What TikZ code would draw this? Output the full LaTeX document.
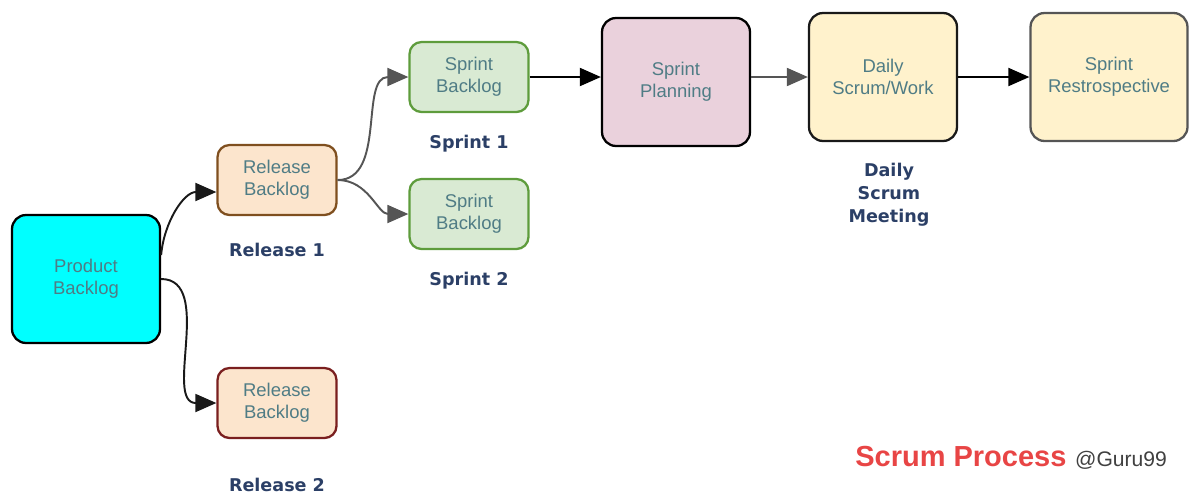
\documentclass[tikz,border=0pt]{standalone}
\usepackage{fontspec}
\setmainfont{Liberation Sans}
\newfontfamily\labelfont{DejaVu Sans}
\usetikzlibrary{arrows.meta,positioning}
\definecolor{boxtext}{HTML}{4F7C85}
\definecolor{labeltext}{HTML}{2B3F66}
\definecolor{cyanfill}{HTML}{00FFFF}
\definecolor{releasefill}{HTML}{FCE5CD}
\definecolor{releaseline}{HTML}{7F4F1F}
\definecolor{releaselinetwo}{HTML}{7A1F1F}
\definecolor{sprintfill}{HTML}{D9EAD3}
\definecolor{sprintline}{HTML}{5E9C3C}
\definecolor{planfill}{HTML}{EAD1DC}
\definecolor{dailyfill}{HTML}{FFF2CC}
\definecolor{retroline}{HTML}{555555}
\definecolor{greyarrow}{HTML}{555555}
\definecolor{titlered}{HTML}{E84545}
\begin{document}
\begin{tikzpicture}[x=0.02cm,y=-0.02cm,
	bigbox/.style={draw, rounded corners=0.28cm, line width=1.3pt, text=boxtext, align=center,
		minimum width=2.96cm, minimum height=2.56cm, inner sep=0pt,
		font=\fontsize{10.5}{12.5}\selectfont},
	smallbox/.style={draw, rounded corners=0.24cm, line width=1.3pt, text=boxtext, align=center,
		minimum width=2.38cm, minimum height=1.4cm, inner sep=0pt,
		font=\fontsize{10.5}{12.5}\selectfont},
	steplabel/.style={text=labeltext, align=center, inner sep=0pt,
		font=\labelfont\bfseries\fontsize{10}{11.5}\selectfont},
	conn/.style={line width=1.1pt, -{Triangle[length=0.42cm,width=0.36cm]}}
	]
	\useasboundingbox (0,0) rectangle (1190,495);
	%Product backlog
	\node [bigbox, fill=cyanfill, draw=black] (pb) at (86,279) {Product\\Backlog};
	%Release backlogs
	\node [smallbox, fill=releasefill, draw=releaseline] (rb1) at (277,180) {Release\\Backlog};
	\node [smallbox, fill=releasefill, draw=releaselinetwo] (rb2) at (277,403) {Release\\Backlog};
	\node [steplabel] (rl1) at (277,250) {Release 1};
	\node [steplabel] (rl2) at (277,485) {Release 2};
	%Sprint backlogs
	\node [smallbox, fill=sprintfill, draw=sprintline] (sb1) at (469,77) {Sprint\\Backlog};
	\node [smallbox, fill=sprintfill, draw=sprintline] (sb2) at (469,214) {Sprint\\Backlog};
	\node [steplabel] (sl1) at (469,144) {Sprint 1};
	\node [steplabel] (sl2) at (469,281) {Sprint 2};
	%Sprint cycle
	\node [bigbox, fill=planfill, draw=black] (sp) at (676,82) {Sprint\\Planning};
	\node [bigbox, fill=dailyfill, draw=black!90] (dsw) at (883,77) {Daily\\Scrum/Work};
	\node [bigbox, fill=dailyfill, draw=retroline, minimum width=3.14cm] (retro) at (1109,77) {Sprint\\Restrospective};
	\node [steplabel, font=\labelfont\bfseries\fontsize{10}{13}\selectfont] (dsm) at (889,195) {Daily\\Scrum\\Meeting};
	%Title
	\node [anchor=base west, inner sep=0pt, text=titlered, font=\bfseries\fontsize{16.5}{18}\selectfont] (title) at (855,466) {Scrum Process};
	\node [inner sep=0pt, text=black!75, font=\fontsize{12}{14}\selectfont, right=0.16cm of title.base east, anchor=base west] (guru) {@Guru99};
	%Connectors
	\draw [conn, black!90] ([yshift=0.48cm]pb.east) to[out=85,in=180] ([yshift=-0.24cm]rb1.west);
	\draw [conn, black!90] (pb.east) to[out=0,in=180] (rb2.west);
	\draw [conn, greyarrow] (rb1.east) to[out=0,in=180] (sb1.west);
	\draw [conn, greyarrow] (rb1.east) to[out=0,in=180] (sb2.west);
	\draw [conn, black] (sb1.east) -- (sb1.east -| sp.west);
	\draw [conn, greyarrow] (sp.east |- dsw.west) -- (dsw.west);
	\draw [conn, black] (dsw.east) -- (retro.west);
\end{tikzpicture}
\end{document}
